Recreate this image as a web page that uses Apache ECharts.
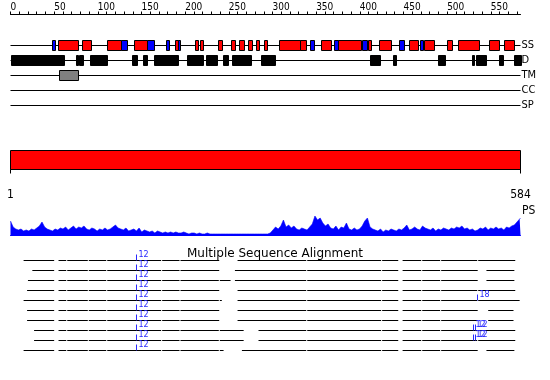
<!DOCTYPE html>
<html><head><meta charset="utf-8">
<script src="https://cdn.jsdelivr.net/npm/echarts@6/dist/echarts.min.js"></script>
<style>html,body{margin:0;padding:0;background:#fff}#c{width:550px;height:380px}</style>
</head><body><div id="c"></div>
<script>
// ---------- data ----------
const seqLength = 584;
const trackNames = ['SS', 'D', 'TM', 'CC', 'SP'];
const rulerTicks = [0,10,20,30,40,50,60,70,80,90,100,110,120,130,140,150,160,170,180,190,200,210,220,230,240,250,260,270,280,290,300,310,320,330,340,350,360,370,380,390,400,410,420,430,440,450,460,470,480,490,500,510,520,530,540,550,560,570,580];
const rulerLabels = [0,50,100,150,200,250,300,350,400,450,500,550];
const rangeLabels = [1, 584];

// secondary structure: helices (red) and strands (blue)
const helix = [[54,77],[82,92],[110,126],[141,156],[188,192],[211,215],[217,221],[238,243],[252,257],[262,268],[272,277],[281,284],[290,294],[307,331],[331,338],[355,366],[375,401],[409,413],[422,436],[456,466],[474,485],[500,506],[512,536],[548,560],[565,577]];
const strand = [[48,51],[126,133],[156,164],[178,181],[192,194],[343,348],[370,375],[403,409],[445,451],[469,472]];
// disorder
const disorder = [[0,61],[75,77],[79,84],[91,111],[139,145],[152,157],[164,191],[202,220],[224,237],[243,249],[254,276],[287,303],[412,424],[438,441],[489,497],[529,531],[533,544],[559,564],[576,584]];
// transmembrane
const transmembrane = [[56,78]];
const coiledCoil = [];
const signalPeptide = [];

// PS profile
const psPos = [1,4,7,10,13,16,19,22,25,28,31,34,37,40,43,46,49,52,55,58,61,64,67,70,73,76,79,82,85,88,91,94,97,100,103,106,109,112,115,118,121,124,127,130,133,136,139,142,145,148,151,154,157,160,163,166,169,172,175,178,181,184,187,190,193,196,199,202,205,208,211,214,217,220,223,226,229,232,235,238,241,244,247,250,253,256,259,262,265,268,271,274,277,280,283,286,289,292,295,298,301,304,307,310,313,316,319,322,325,328,331,334,337,340,343,346,349,352,355,358,361,364,367,370,373,376,379,382,385,388,391,394,397,400,403,406,409,412,415,418,421,424,427,430,433,436,439,442,445,448,451,454,457,460,463,466,469,472,475,478,481,484,487,490,493,496,499,502,505,508,511,514,517,520,523,526,529,532,535,538,541,544,547,550,553,556,559,562,565,568,571,574,577,580,583,584];
const psVal = [
  14,8,6,5,6,4,5,4,6,5,
  7,9,13,8,6,5,4,6,5,7,
  6,8,5,7,9,6,8,7,9,6,
  5,7,6,4,6,5,7,5,6,8,
  10,7,6,5,7,4,5,6,4,7,
  3,5,4,3,4,2,4,3,2,3,
  2,3,2,3,2,2,3,2,1,2,
  2,1,2,1,1,2,1,1,1,1,
  1,1,1,1,1,1,1,1,1,1,
  1,1,1,1,1,1,1,1,1,2,
  5,8,6,9,15,8,10,7,9,6,
  5,7,6,5,8,11,19,15,17,12,
  9,11,7,6,9,5,8,7,12,6,
  5,7,5,6,9,14,17,8,6,5,
  4,6,3,5,4,6,5,4,6,5,
  7,10,5,6,8,6,5,9,7,6,
  5,7,4,6,5,7,6,5,7,6,
  8,7,9,6,7,5,6,4,5,7,
  6,8,5,7,6,8,6,7,5,8,
  7,9,10,13,16,17];

// multiple sequence alignment: aligned segments per sequence
const msaRows = [
  [[15,50],[55,239],[260,444],[449,578]],
  [[25,50],[55,239],[257,444],[449,535],[545,577]],
  [[20,50],[55,252],[257,444],[449,535],[545,577]],
  [[19,50],[55,239],[260,444],[449,578]],
  [[15,50],[55,242],[260,444],[449,583]],
  [[19,50],[55,239],[260,444],[449,535],[547,576]],
  [[19,50],[55,239],[260,444],[449,535],[547,576]],
  [[27,50],[55,267],[284,444],[449,578]],
  [[27,50],[55,267],[284,444],[449,578]],
  [[15,50],[55,244],[265,444],[449,535],[545,577]]
];
const blockBreaks = [64.4, 89.1, 110.2, 173.1, 194.1, 239.1, 339.2, 425, 470.9, 492.6, 535];
const msaMarks = [
  [0,144,'12'],[1,144,'12'],[2,144,'12'],[3,144,'12'],[4,144,'12'],
  [5,144,'12'],[6,144,'12'],[7,144,'12'],[8,144,'12'],[9,144,'12'],
  [4,534,'18'],[7,530,'12'],[7,532,'12'],[8,530,'12'],[8,532,'12']
];
const msaNames = ['s1','s2','s3','s4','s5','s6','s7','s8','s9','s10'];

// ---------- chart ----------
const FONT = "'DejaVu Sans Condensed','DejaVu Sans',sans-serif";
const chart = echarts.init(document.getElementById('c'), null, {renderer: 'canvas'});

function trackData(list, row) { return list.map(s => [s[0], s[1], row]); }

function boxRender(fill) {
  return function (params, api) {
    const row = api.value(2);
    const p0 = api.coord([api.value(0), row]);
    const p1 = api.coord([api.value(1), row]);
    const x0 = Math.round(p0[0]) + 0.5;
    const w = Math.max(1, Math.round(p1[0] - p0[0]));
    return {type: 'rect', shape: {x: x0, y: p0[1] - 5, width: w, height: 10},
      style: {fill: fill, stroke: '#000', lineWidth: 1}};
  };
}
function lineRender(params, api) {
  const row = api.value(2);
  const p0 = api.coord([api.value(0), row]);
  const p1 = api.coord([api.value(1), row]);
  return {type: 'line', shape: {x1: p0[0], y1: p0[1], x2: p1[0], y2: p1[1]},
    style: {stroke: '#000', lineWidth: 1}};
}
function msaRender(params, api) {
  const row = api.value(0), s = api.value(1), e = api.value(2);
  const a = api.coord([s, row]), b = api.coord([e, row]);
  const y = a[1];
  const cuts = blockBreaks.filter(v => v > s + 1 && v < e - 1).map(v => api.coord([v, row])[0]);
  const children = [];
  let cur = a[0];
  cuts.forEach(c => {
    children.push({type: 'line', shape: {x1: cur, y1: y, x2: c - 0.5, y2: y}, style: {stroke: '#000', lineWidth: 1}});
    cur = c + 0.5;
  });
  children.push({type: 'line', shape: {x1: cur, y1: y, x2: b[0], y2: y}, style: {stroke: '#000', lineWidth: 1}});
  return {type: 'group', children: children};
}
function markRender(params, api) {
  const row = api.value(0);
  const p = api.coord([api.value(1), row]);
  const x = Math.round(p[0]) + 0.5;
  return {type: 'group', children: [
    {type: 'line', shape: {x1: x, y1: p[1] - 6, x2: x, y2: p[1]}, style: {stroke: '#2828ff', lineWidth: 1}},
    {type: 'text', x: x + 2, y: p[1] - 1.5, style: {text: api.value(2), fill: '#2828ff', font: "8px 'DejaVu Sans'", textAlign: 'left', textVerticalAlign: 'bottom'}}
  ]};
}

const tracks = [];
for (let i = 0; i < trackNames.length; i++) tracks.push([0, seqLength, i]);

const option = {
  animation: false,
  backgroundColor: '#fff',
  title: {text: 'Multiple Sequence Alignment', left: 'center', top: 243,
    textStyle: {fontSize: 12, fontWeight: 'normal', color: '#000', fontFamily: "'DejaVu Sans',sans-serif"}},
  graphic: [{type: 'text', left: 522, top: 205, style: {text: 'PS', font: "12px " + FONT, fill: '#000'}}],
  grid: [
    {left: 10.5, width: 510, top: 38, height: 75, outerBoundsMode: 'none'},
    {left: 10.5, width: 510, top: 150.5, height: 19, outerBoundsMode: 'none'},
    {left: 10.5, width: 510, top: 215, height: 20, outerBoundsMode: 'none'},
    {left: 10.5, width: 510, top: 255.5, height: 100, outerBoundsMode: 'none'}
  ],
  xAxis: [
    {gridIndex: 0, type: 'value', min: 0, max: seqLength, position: 'top', offset: 23.5,
      axisLine: {show: true, lineStyle: {color: '#000', width: 1}},
      axisTick: {show: true, customValues: rulerTicks, length: 3, lineStyle: {color: '#000'}},
      axisLabel: {customValues: rulerLabels, align: 'left', margin: 2, fontSize: 10, color: '#000', fontFamily: FONT},
      splitLine: {show: false}},
    {gridIndex: 1, type: 'value', min: 1, max: seqLength, position: 'bottom', offset: 11,
      axisLine: {show: true, lineStyle: {color: '#000', width: 1}},
      axisTick: {show: true, customValues: rangeLabels, length: 4, lineStyle: {color: '#000'}},
      axisLabel: {customValues: rangeLabels, showMinLabel: true, showMaxLabel: true, margin: 8, fontSize: 12, color: '#000', fontFamily: FONT},
      splitLine: {show: false}},
    {gridIndex: 2, type: 'value', min: 1, max: seqLength,
      axisLine: {show: true, lineStyle: {color: '#0000ff', width: 1}},
      axisTick: {show: false}, axisLabel: {show: false}, splitLine: {show: false}},
    {gridIndex: 3, type: 'value', min: 0, max: seqLength, show: false}
  ],
  yAxis: [
    {gridIndex: 0, type: 'category', data: trackNames, inverse: true, position: 'right',
      axisLine: {show: false}, axisTick: {show: false}, splitLine: {show: false},
      axisLabel: {margin: 1, fontSize: 11, color: '#000', fontFamily: FONT, align: 'left'}},
    {gridIndex: 1, type: 'value', min: 0, max: 1, show: false},
    {gridIndex: 2, type: 'value', min: 0, max: 20, show: false},
    {gridIndex: 3, type: 'category', data: msaNames, inverse: true, show: false}
  ],
  series: [
    {type: 'custom', xAxisIndex: 0, yAxisIndex: 0, z: 1, renderItem: lineRender, data: tracks, encode: {x: [0, 1], y: 2}},
    {type: 'custom', xAxisIndex: 0, yAxisIndex: 0, z: 2, renderItem: boxRender('#ff0000'), data: trackData(helix, 0), encode: {x: [0, 1], y: 2}},
    {type: 'custom', xAxisIndex: 0, yAxisIndex: 0, z: 2, renderItem: boxRender('#0000ff'), data: trackData(strand, 0), encode: {x: [0, 1], y: 2}},
    {type: 'custom', xAxisIndex: 0, yAxisIndex: 0, z: 2, renderItem: boxRender('#000000'), data: trackData(disorder, 1), encode: {x: [0, 1], y: 2}},
    {type: 'custom', xAxisIndex: 0, yAxisIndex: 0, z: 2, renderItem: boxRender('#808080'), data: trackData(transmembrane, 2), encode: {x: [0, 1], y: 2}},
    {type: 'custom', xAxisIndex: 0, yAxisIndex: 0, z: 2, renderItem: boxRender('#ffff00'), data: trackData(coiledCoil, 3), encode: {x: [0, 1], y: 2}},
    {type: 'custom', xAxisIndex: 0, yAxisIndex: 0, z: 2, renderItem: boxRender('#00ff00'), data: trackData(signalPeptide, 4), encode: {x: [0, 1], y: 2}},
    {type: 'custom', xAxisIndex: 1, yAxisIndex: 1, renderItem: function (params, api) {
        const p0 = api.coord([api.value(0), 1]);
        const p1 = api.coord([api.value(1), 0]);
        return {type: 'rect', shape: {x: p0[0], y: p0[1], width: p1[0] - p0[0], height: p1[1] - p0[1]},
          style: {fill: '#ff0000', stroke: '#000', lineWidth: 1}};
      }, data: [[1, seqLength]], encode: {x: [0, 1]}},
    {type: 'line', xAxisIndex: 2, yAxisIndex: 2, symbol: 'none', smooth: false,
      lineStyle: {color: '#0000ff', width: 0.6}, areaStyle: {color: '#0000ff', opacity: 1},
      data: psPos.map((p, i) => [p, psVal[i]])},
    {type: 'custom', xAxisIndex: 3, yAxisIndex: 3, renderItem: msaRender,
      data: msaRows.flatMap((segs, r) => segs.map(s => [r, s[0], s[1]])), encode: {x: [1, 2], y: 0}},
    {type: 'custom', xAxisIndex: 3, yAxisIndex: 3, z: 3, renderItem: markRender,
      data: msaMarks, encode: {x: 1, y: 0}}
  ]
};
chart.setOption(option);
</script></body></html>
